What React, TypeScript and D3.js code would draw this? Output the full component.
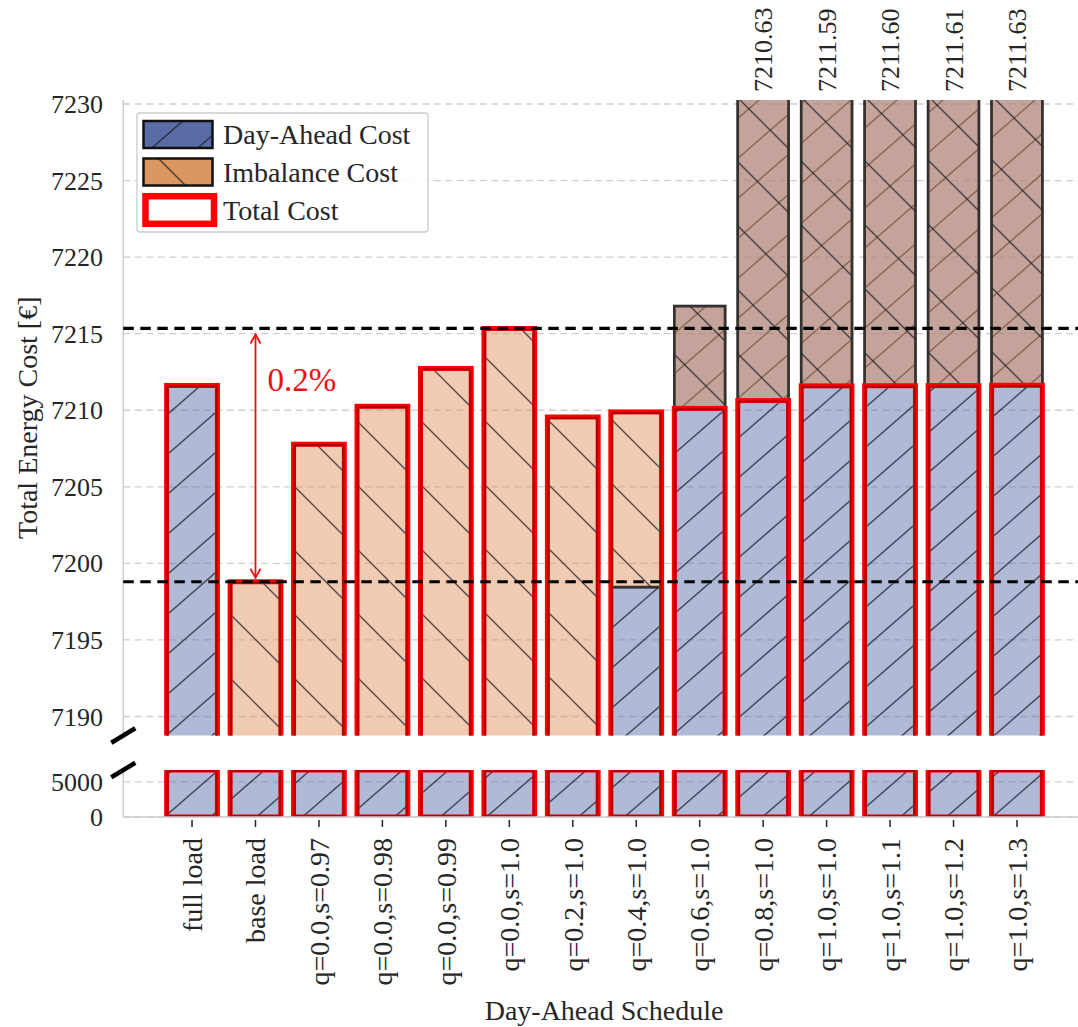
import React, { useEffect, useRef } from 'react';
import * as d3 from 'd3';

const categories = [
  'full load', 'base load', 'q=0.0,s=0.97', 'q=0.0,s=0.98', 'q=0.0,s=0.99', 'q=0.0,s=1.0',
  'q=0.2,s=1.0', 'q=0.4,s=1.0', 'q=0.6,s=1.0', 'q=0.8,s=1.0', 'q=1.0,s=1.0', 'q=1.0,s=1.1',
  'q=1.0,s=1.2', 'q=1.0,s=1.3',
];
const dayAheadCost = [7211.62, 7105, 7120, 7125, 7130, 7135, 7150, 7198.45, 7216.8, 7238.5, 7262.4, 7262.9, 7263.4, 7263.9];
const imbalanceCost = [0, 93.8, 87.78, 85.26, 82.73, 80.34, 59.56, 11.44, -6.68, -27.87, -50.81, -51.3, -51.79, -52.27];
const upperTicks = [7190, 7195, 7200, 7205, 7210, 7215, 7220, 7225, 7230];
const lowerTicks = [0, 5000];
const legendLabels = ['Day-Ahead Cost', 'Imbalance Cost', 'Total Cost'];

const W = 1078;
const H = 1027;
const FONT = "'Liberation Serif', 'Times New Roman', serif";
const TXT = '#262626';
const BLUE = '#5064a5';
const ORANGE = '#dd8c52';

export default function App() {
  const ref = useRef<SVGSVGElement>(null);

  useEffect(() => {
    const svg = d3.select(ref.current);
    svg.selectAll('*').remove();

    const left = 123.3;
    const right = 1085;
    const upTop = 100;
    const upBot = 735.5;
    const loTop = 770;
    const loBot = 817;

    const x = d3.scaleBand<string>().domain(categories).range([160.3, 1048.7]).paddingInner(0.2).paddingOuter(0.1);
    const yU = d3.scaleLinear().domain([7188.76, 7230.26]).range([upBot, upTop]);
    const yL = d3.scaleLinear().domain([0, 6700]).range([loBot, loTop]);

    const totals = dayAheadCost.map((d, i) => d + imbalanceCost[i]);

    const defs = svg.append('defs');
    defs.append('clipPath').attr('id', 'clipU').append('rect')
      .attr('x', left).attr('y', upTop).attr('width', right - left).attr('height', upBot - upTop);
    defs.append('clipPath').attr('id', 'clipL').append('rect')
      .attr('x', left).attr('y', loTop).attr('width', right - left).attr('height', loBot - loTop);

    const w1 = 46;
    const h1 = 40;
    const p1 = defs.append('pattern').attr('id', 'hFwd').attr('patternUnits', 'userSpaceOnUse')
      .attr('width', w1).attr('height', h1);
    p1.append('path')
      .attr('d', `M0,${h1} L${w1},0 M${-w1 / 4},${h1 / 4} L${w1 / 4},${-h1 / 4} M${(3 * w1) / 4},${(5 * h1) / 4} L${(5 * w1) / 4},${(3 * h1) / 4}`)
      .attr('stroke', 'rgba(25,25,35,0.7)').attr('stroke-width', 1.5).attr('fill', 'none');
    const s2 = 64;
    const p2 = defs.append('pattern').attr('id', 'hBack').attr('patternUnits', 'userSpaceOnUse')
      .attr('width', s2).attr('height', s2);
    p2.append('path')
      .attr('d', `M0,0 L${s2},${s2} M${-s2 / 4},${(3 * s2) / 4} L${s2 / 4},${(5 * s2) / 4} M${(3 * s2) / 4},${-s2 / 4} L${(5 * s2) / 4},${s2 / 4}`)
      .attr('stroke', 'rgba(25,25,35,0.7)').attr('stroke-width', 1.5).attr('fill', 'none');

    svg.append('rect').attr('width', W).attr('height', H).attr('fill', '#fff');

    // grids
    const gridU = svg.append('g');
    upperTicks.forEach((t) => {
      gridU.append('line').attr('x1', left).attr('x2', right).attr('y1', yU(t)).attr('y2', yU(t))
        .attr('stroke', '#cfcfcf').attr('stroke-width', 1.3).attr('stroke-dasharray', '7,4.5');
    });
    lowerTicks.forEach((t) => {
      gridU.append('line').attr('x1', left).attr('x2', right).attr('y1', yL(t)).attr('y2', yL(t))
        .attr('stroke', '#cfcfcf').attr('stroke-width', 1.3).attr('stroke-dasharray', '7,4.5');
    });

    const drawPanel = (clipId: string, y: d3.ScaleLinear<number, number>, clampEdge: boolean) => {
      const g = svg.append('g').attr('clip-path', `url(#${clipId})`);
      const [d0, d1] = y.domain();
      const lo = clampEdge ? d0 : d0 - 1;
      const hi = clampEdge ? d1 : d1 + 1;
      const cl = (v: number) => Math.max(lo, Math.min(hi, v));
      const bw = x.bandwidth();
      const rectBetween = (a: number, b: number, i: number) => {
        const ya = y(cl(Math.max(a, b)));
        const yb = y(cl(Math.min(a, b)));
        return { x: x(categories[i])!, y: ya, w: bw, h: yb - ya };
      };
      // day-ahead
      categories.forEach((c, i) => {
        const r = rectBetween(0, dayAheadCost[i], i);
        if (r.h <= 0) return;
        g.append('rect').attr('x', r.x).attr('y', r.y).attr('width', r.w).attr('height', r.h)
          .attr('fill', BLUE).attr('fill-opacity', 0.45);
        g.append('rect').attr('x', r.x).attr('y', r.y).attr('width', r.w).attr('height', r.h)
          .attr('fill', 'url(#hFwd)').attr('stroke', '#2b2b2b').attr('stroke-opacity', 0.85).attr('stroke-width', 2.6);
      });
      // imbalance
      categories.forEach((c, i) => {
        const r = rectBetween(dayAheadCost[i], dayAheadCost[i] + imbalanceCost[i], i);
        if (r.h <= 0.01) return;
        g.append('rect').attr('x', r.x).attr('y', r.y).attr('width', r.w).attr('height', r.h)
          .attr('fill', ORANGE).attr('fill-opacity', 0.45);
        g.append('rect').attr('x', r.x).attr('y', r.y).attr('width', r.w).attr('height', r.h)
          .attr('fill', 'url(#hBack)').attr('stroke', '#2b2b2b').attr('stroke-opacity', 0.85).attr('stroke-width', 2.6);
      });
      // totals
      categories.forEach((c, i) => {
        const r = rectBetween(0, totals[i], i);
        if (r.h <= 0) return;
        g.append('rect').attr('x', r.x).attr('y', r.y).attr('width', r.w).attr('height', r.h)
          .attr('fill', 'none').attr('stroke', '#ff0000').attr('stroke-width', 5);
        g.append('rect').attr('x', r.x + 1).attr('y', r.y + 1).attr('width', r.w - 2).attr('height', Math.max(0, r.h - 2))
          .attr('fill', 'none').attr('stroke', '#6a0000').attr('stroke-opacity', 0.5).attr('stroke-width', 2.2);
      });
    };
    drawPanel('clipU', yU, false);
    drawPanel('clipL', yL, true);

    // spines
    svg.append('line').attr('x1', left).attr('x2', left).attr('y1', upTop).attr('y2', upBot)
      .attr('stroke', '#cccccc').attr('stroke-width', 1.5);
    svg.append('line').attr('x1', left).attr('x2', left).attr('y1', loTop).attr('y2', loBot)
      .attr('stroke', '#cccccc').attr('stroke-width', 1.5);
    svg.append('line').attr('x1', left).attr('x2', right).attr('y1', loBot).attr('y2', loBot)
      .attr('stroke', '#cccccc').attr('stroke-width', 1.5);

    // break marks
    [upBot, loTop].forEach((yy) => {
      svg.append('line').attr('x1', left - 12).attr('y1', yy + 7.2).attr('x2', left + 12).attr('y2', yy - 7.2)
        .attr('stroke', '#000').attr('stroke-width', 4.5);
    });

    // reference dashed lines
    const maxT = d3.max(totals)!;
    const minT = d3.min(totals)!;
    [maxT, minT].forEach((v) => {
      svg.append('line').attr('x1', left).attr('x2', right).attr('y1', yU(v)).attr('y2', yU(v))
        .attr('stroke', '#000').attr('stroke-width', 3.2).attr('stroke-dasharray', '10.5,6.5');
    });

    // arrow
    const minIdx = totals.indexOf(minT);
    const ax = x(categories[minIdx])! + x.bandwidth() / 2;
    const ay1 = yU(maxT) + 6;
    const ay2 = yU(minT) - 4;
    const red = '#ee1111';
    svg.append('line').attr('x1', ax).attr('x2', ax).attr('y1', ay1).attr('y2', ay2)
      .attr('stroke', red).attr('stroke-width', 1.8);
    svg.append('path').attr('d', `M${ax - 5},${ay1 + 9} L${ax},${ay1} L${ax + 5},${ay1 + 9}`)
      .attr('stroke', red).attr('stroke-width', 1.8).attr('fill', 'none');
    svg.append('path').attr('d', `M${ax - 5},${ay2 - 9} L${ax},${ay2} L${ax + 5},${ay2 - 9}`)
      .attr('stroke', red).attr('stroke-width', 1.8).attr('fill', 'none');
    svg.append('text').attr('x', ax + 12).attr('y', 391).attr('fill', red)
      .attr('font-family', FONT).attr('font-size', 33)
      .text(`${(((maxT - minT) / minT) * 100).toFixed(1)}%`);

    // y tick labels
    const tl = svg.append('g').attr('font-family', FONT).attr('font-size', 26).attr('fill', TXT);
    upperTicks.forEach((t) => {
      tl.append('text').attr('x', 103).attr('y', yU(t)).attr('dy', '0.35em').attr('text-anchor', 'end').text(t);
    });
    lowerTicks.forEach((t) => {
      tl.append('text').attr('x', 103).attr('y', yL(t)).attr('dy', '0.35em').attr('text-anchor', 'end').text(t);
    });

    // x ticks and labels
    categories.forEach((c) => {
      const cx = x(c)! + x.bandwidth() / 2;
      svg.append('line').attr('x1', cx).attr('x2', cx).attr('y1', 820).attr('y2', 827)
        .attr('stroke', '#262626').attr('stroke-width', 1.5);
      tl.append('text').attr('transform', `translate(${cx},838) rotate(-90)`)
        .attr('font-size', 28).attr('dy', '0.35em').attr('text-anchor', 'end').text(c);
    });

    // clipped-bar value labels
    categories.forEach((c, i) => {
      if (dayAheadCost[i] <= yU.domain()[1]) return;
      const cx = x(c)! + x.bandwidth() / 2;
      tl.append('text').attr('transform', `translate(${cx},92) rotate(-90)`)
        .attr('dy', '0.35em').attr('text-anchor', 'start').text(totals[i].toFixed(2));
    });

    // axis labels
    tl.append('text').attr('x', 604).attr('y', 1020).attr('font-size', 28).attr('text-anchor', 'middle').text('Day-Ahead Schedule');
    tl.append('text').attr('transform', `translate(27,${(upTop + upBot) / 2}) rotate(-90)`)
      .attr('font-size', 28).attr('dy', '0.35em').attr('text-anchor', 'middle').text('Total Energy Cost [€]');

    // legend
    const lg = svg.append('g');
    lg.append('rect').attr('x', 137).attr('y', 113).attr('width', 291).attr('height', 119).attr('rx', 3)
      .attr('fill', '#fff').attr('fill-opacity', 0.85).attr('stroke', '#cccccc').attr('stroke-width', 1.3);
    const rows = [134.5, 172, 210];
    const lcol = ['#5a6ca6', '#dc9660'];
    const lpat = ['url(#hFwd)', 'url(#hBack)'];
    [0, 1].forEach((k) => {
      lg.append('rect').attr('x', 143.5).attr('y', rows[k] - 13.5).attr('width', 69).attr('height', 27)
        .attr('fill', lcol[k]);
      lg.append('rect').attr('x', 143.5).attr('y', rows[k] - 13.5).attr('width', 69).attr('height', 27)
        .attr('fill', lpat[k]).attr('stroke', '#111').attr('stroke-width', 2.5);
    });
    lg.append('rect').attr('x', 145.5).attr('y', rows[2] - 13.8).attr('width', 68.5).attr('height', 27.6)
      .attr('fill', '#fff').attr('stroke', '#ff0000').attr('stroke-width', 6.5);
    legendLabels.forEach((l, k) => {
      lg.append('text').attr('x', 223).attr('y', rows[k]).attr('dy', '0.35em')
        .attr('font-family', FONT).attr('font-size', 28).attr('fill', TXT).text(l);
    });
  }, []);

  return (
    <svg ref={ref} width={W} height={H} style={{ position: 'absolute', left: 0, top: 0, background: '#fff' }} />
  );
}
